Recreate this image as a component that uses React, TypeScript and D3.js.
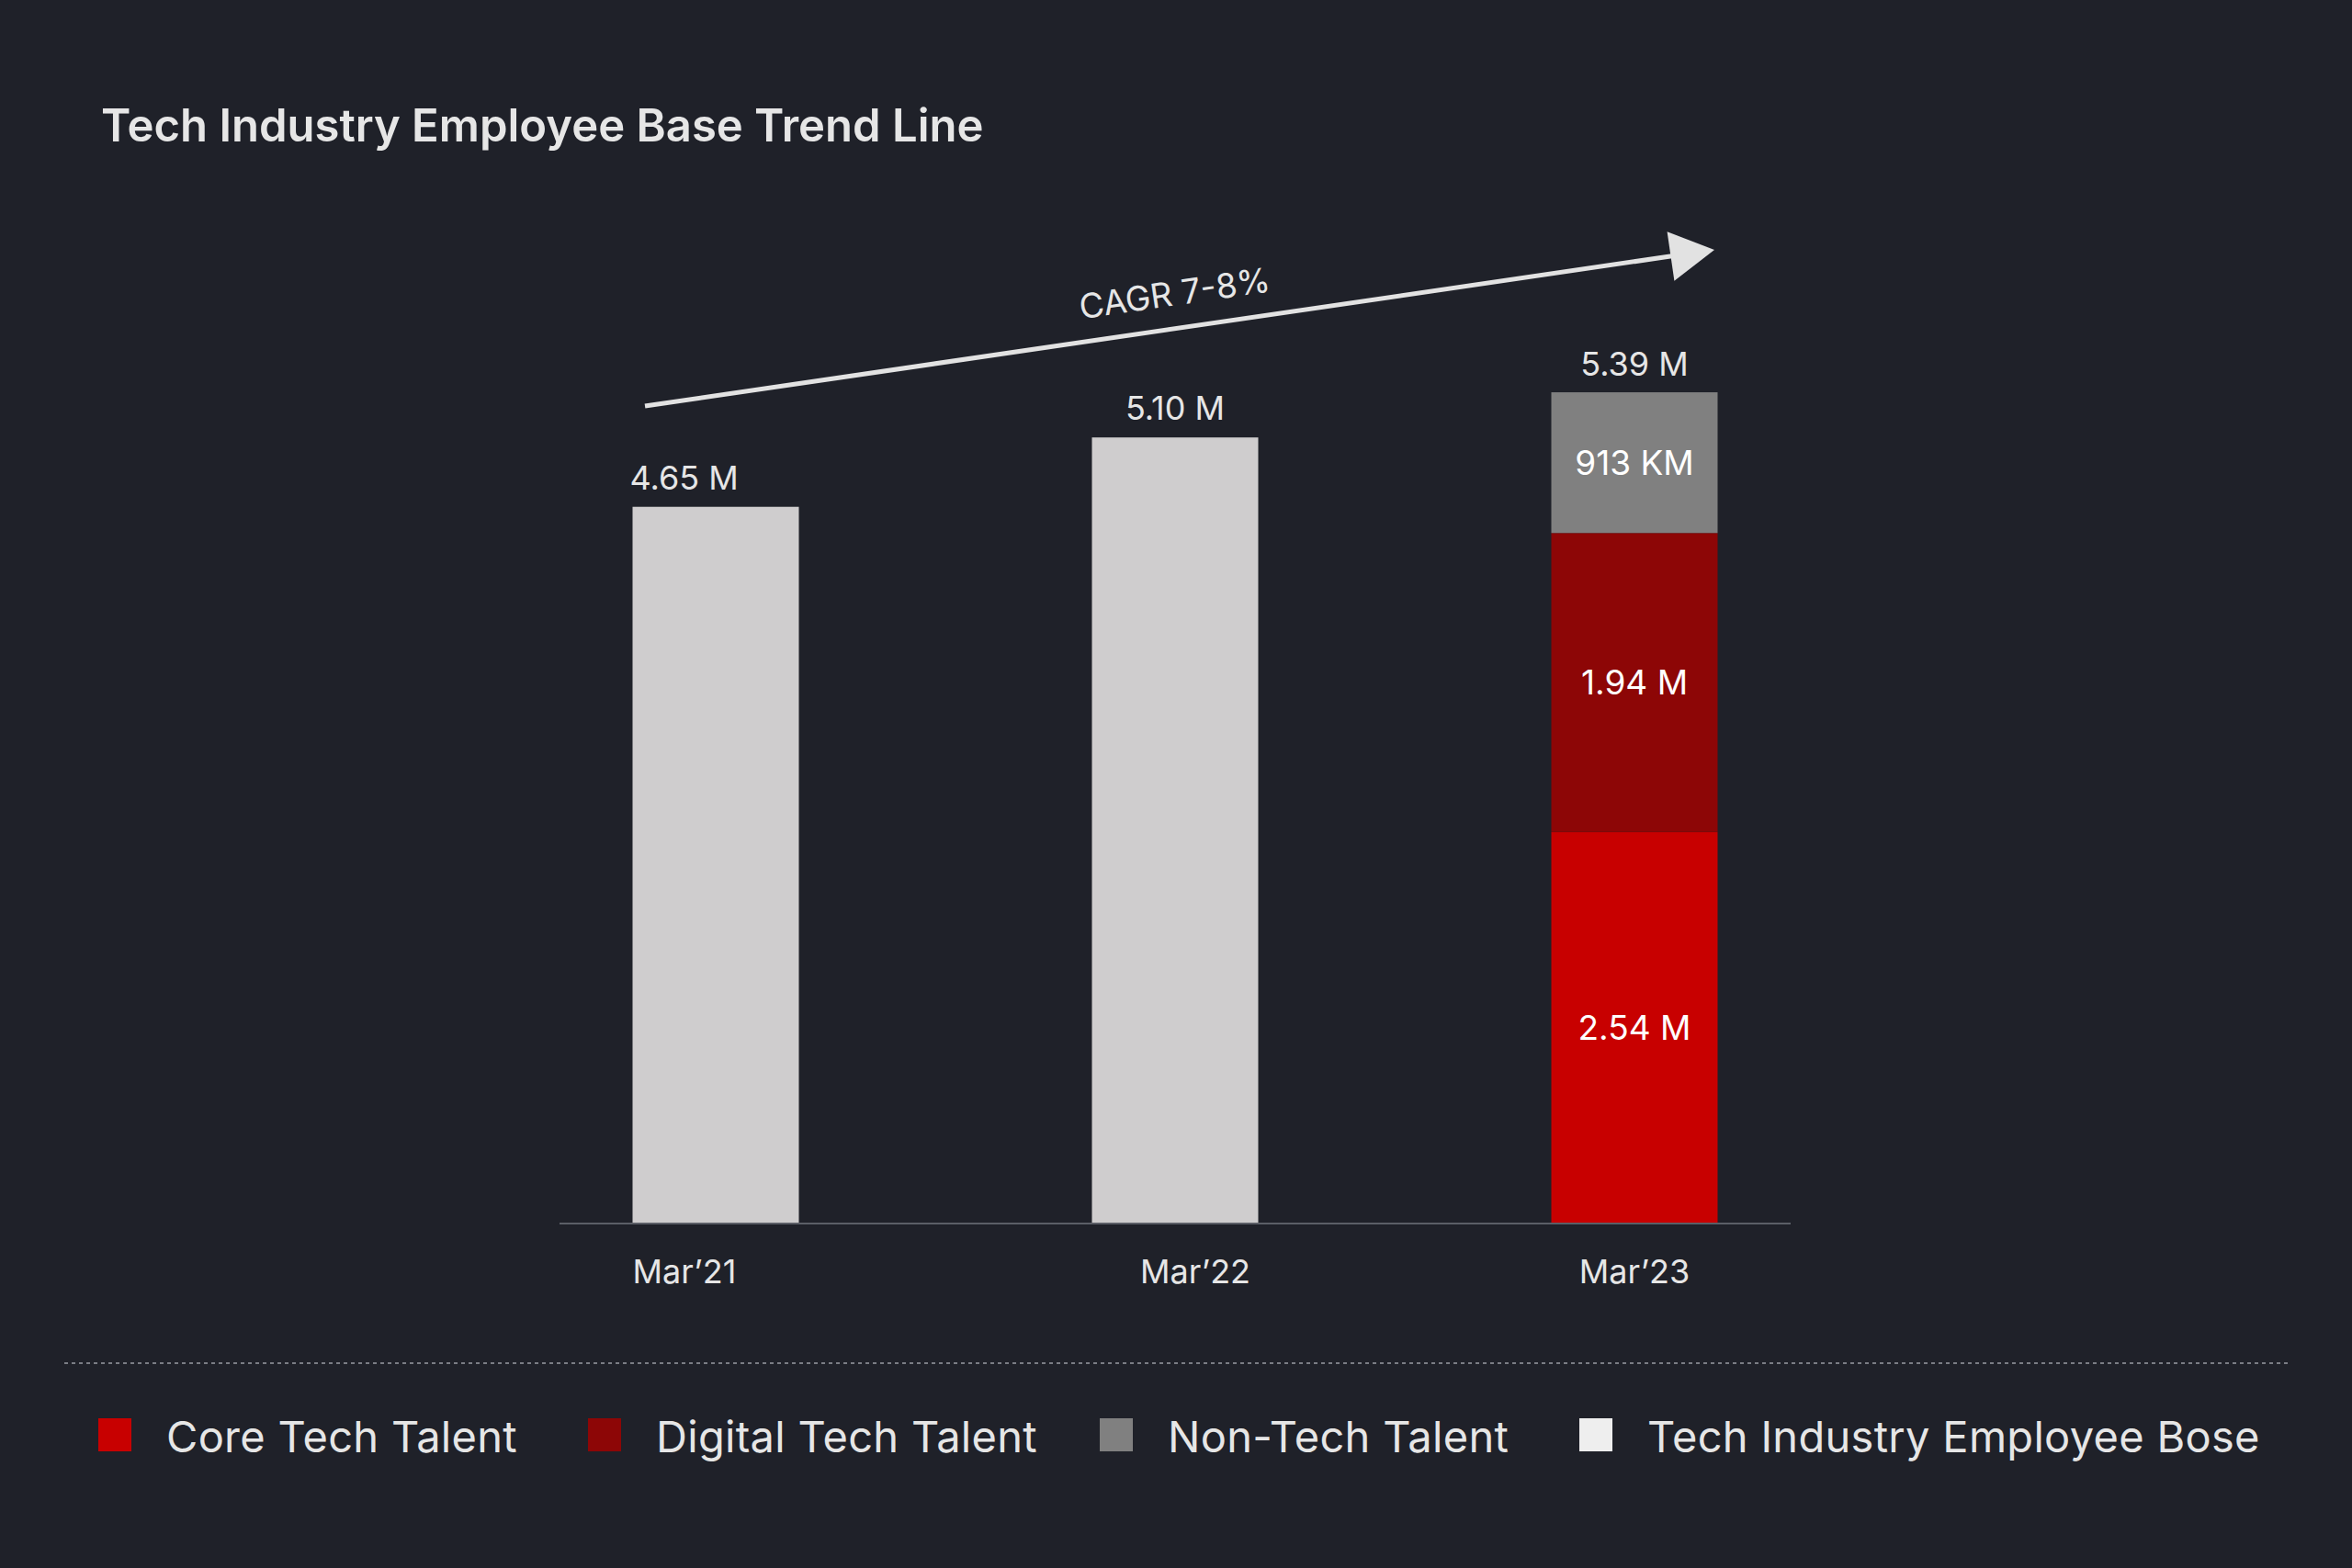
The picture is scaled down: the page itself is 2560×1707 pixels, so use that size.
import * as React from 'react';
import * as d3 from 'd3';

const periods = ['Mar’21', 'Mar’22', 'Mar’23'];
const totals = [4.65, 5.1, 5.39];
const totalLabels = ['4.65 M', '5.10 M', '5.39 M'];

// breakdown only exists for the latest year
const coreTech = [0, 0, 2.54];
const digitalTech = [0, 0, 1.94];
const nonTech = [0, 0, 0.913];
const segmentLabels: Record<string, string[]> = {
  core: ['', '', '2.54 M'],
  digital: ['', '', '1.94 M'],
  nonTech: ['', '', '913 KM'],
};

const legendLabels = ['Core Tech Talent', 'Digital Tech Talent', 'Non-Tech Talent', 'Tech Industry Employee Bose'];
const trendLabel = 'CAGR 7-8%';
const title = 'Tech Industry Employee Base Trend Line';

const W = 2560;
const H = 1707;
const BG = '#1f2129';
const TEXT = '#e6e6e6';
const FONT = 'Inter, "Noto Sans", sans-serif';
const colors: Record<string, string> = {
  core: '#c80000',
  digital: '#8d0606',
  nonTech: '#808080',
  total: '#cfcdce',
};
const legendColors = [colors.core, colors.digital, colors.nonTech, '#eeeeee'];
const legendX = [107, 640, 1197, 1719];

export default function App() {
  const ref = React.useRef<SVGSVGElement | null>(null);

  React.useEffect(() => {
    if (!ref.current) return;
    const svg = d3.select(ref.current);
    svg.selectAll('*').remove();

    svg.append('rect').attr('width', W).attr('height', H).attr('fill', BG);

    svg.append('text')
      .attr('x', 110).attr('y', 154)
      .attr('fill', TEXT)
      .attr('font-family', FONT)
      .attr('font-weight', 600)
      .attr('font-size', 49)
      .text(title);

    const x = d3.scaleBand<string>()
      .domain(periods)
      .range([609, 1949])
      .paddingInner(0.638)
      .paddingOuter(0.159);
    const y = d3.scaleLinear().domain([0, 6]).range([1332, 1332 - 6 * 167.8]);

    const rows = periods.map((p, i) => ({
      period: p,
      core: coreTech[i],
      digital: digitalTech[i],
      nonTech: nonTech[i],
    }));
    const keys = ['core', 'digital', 'nonTech'];
    const stacked = d3.stack<any>().keys(keys)(rows);
    const hasBreakdown = (i: number) => coreTech[i] + digitalTech[i] + nonTech[i] > 0;

    // plain total bars
    svg.append('g')
      .selectAll('rect')
      .data(periods.filter((_, i) => !hasBreakdown(i)))
      .join('rect')
      .attr('x', d => x(d) ?? 0)
      .attr('width', x.bandwidth())
      .attr('y', d => y(totals[periods.indexOf(d)]))
      .attr('height', d => y(0) - y(totals[periods.indexOf(d)]))
      .attr('fill', colors.total);

    // stacked bars
    stacked.forEach(series => {
      const g = svg.append('g');
      series.forEach((seg, i) => {
        if (!hasBreakdown(i)) return;
        const x0 = x(periods[i]) ?? 0;
        g.append('rect')
          .attr('x', x0)
          .attr('width', x.bandwidth())
          .attr('y', y(seg[1]))
          .attr('height', y(seg[0]) - y(seg[1]))
          .attr('fill', colors[series.key]);
        g.append('text')
          .attr('x', x0 + x.bandwidth() / 2)
          .attr('y', (y(seg[0]) + y(seg[1])) / 2)
          .attr('dy', '0.35em')
          .attr('text-anchor', 'middle')
          .attr('fill', '#ffffff')
          .attr('font-family', FONT)
          .attr('font-size', 37)
          .text(segmentLabels[series.key][i]);
      });
    });

    // total labels
    svg.append('g')
      .selectAll('text')
      .data(periods)
      .join('text')
      .attr('x', (d, i) => i === 0 ? (x(d) ?? 0) - 3 : (x(d) ?? 0) + x.bandwidth() / 2)
      .attr('y', (d, i) => y(totals[i]) - 19)
      .attr('text-anchor', (d, i) => i === 0 ? 'start' : 'middle')
      .attr('fill', TEXT)
      .attr('font-family', FONT)
      .attr('font-size', 36)
      .text((d, i) => totalLabels[i]);

    // axis
    const axis = svg.append('g')
      .attr('transform', `translate(0,${y(0)})`)
      .call(d3.axisBottom(x).tickSize(0).tickPadding(39) as any);
    axis.select('.domain')
      .attr('d', `M${x.range()[0]},0H${x.range()[1]}`)
      .attr('stroke', '#5b5e66')
      .attr('stroke-width', 2);
    axis.selectAll('.tick text')
      .attr('fill', TEXT)
      .attr('font-family', FONT)
      .attr('font-size', 36)
      .attr('text-anchor', (d: any, i: number) => i === 0 ? 'start' : 'middle')
      .attr('x', (d: any, i: number) => i === 0 ? -x.bandwidth() / 2 : i === 1 ? 22 : 0);

    // trend arrow
    const ax0 = 702, ay0 = 442, ax1 = 1866, ay1 = 272;
    const len = Math.hypot(ax1 - ax0, ay1 - ay0);
    const ang = Math.atan2(ay1 - ay0, ax1 - ax0) * 180 / Math.PI;
    const arrow = svg.append('g').attr('transform', `translate(${ax0},${ay0}) rotate(${ang})`);
    arrow.append('line')
      .attr('x1', 0).attr('y1', 0).attr('x2', len - 40).attr('y2', 0)
      .attr('stroke', '#e2e2e2').attr('stroke-width', 5);
    arrow.append('path')
      .attr('d', `M${len},0L${len - 48},-27L${len - 48},27Z`)
      .attr('fill', '#e2e2e2');
    arrow.append('text')
      .attr('x', len / 2)
      .attr('y', -25)
      .attr('text-anchor', 'middle')
      .attr('fill', TEXT)
      .attr('font-family', FONT)
      .attr('font-size', 37)
      .text(trendLabel);

    // separator
    svg.append('line')
      .attr('x1', 70).attr('x2', 2490).attr('y1', 1484).attr('y2', 1484)
      .attr('stroke', '#7a7d84').attr('stroke-width', 2).attr('stroke-dasharray', '4 4');

    // legend
    const legend = svg.append('g');
    legendLabels.forEach((label, i) => {
      const item = legend.append('g').attr('transform', `translate(${legendX[i]},0)`);
      item.append('rect')
        .attr('x', 0).attr('y', 1544).attr('width', 36).attr('height', 36)
        .attr('fill', legendColors[i]);
      item.append('text')
        .attr('x', 74).attr('y', 1581)
        .attr('fill', TEXT)
        .attr('font-family', FONT)
        .attr('font-size', 47)
        .attr('letter-spacing', 0.3)
        .text(label);
    });
  }, []);

  return (
    <svg
      ref={ref}
      width={W}
      height={H}
      viewBox={`0 0 ${W} ${H}`}
      style={{ position: 'absolute', left: 0, top: 0, display: 'block' }}
    />
  );
}
